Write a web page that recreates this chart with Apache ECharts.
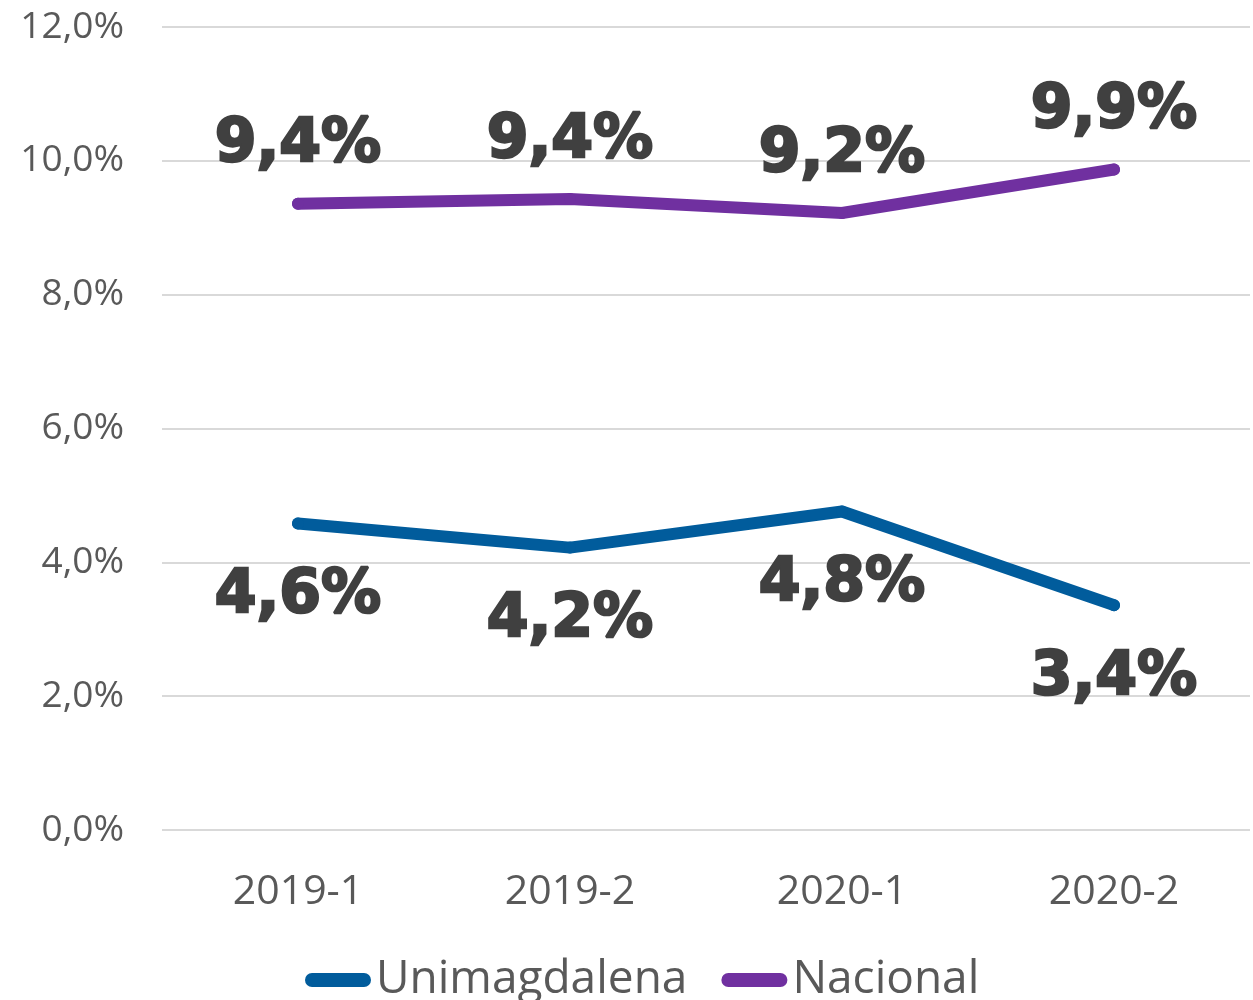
<!DOCTYPE html>
<html><head><meta charset="utf-8">
<script src="https://cdn.jsdelivr.net/npm/echarts@6/dist/echarts.min.js"></script>
<style>html,body{margin:0;padding:0;background:#fff}#c{width:1253px;height:1000px}</style>
</head><body><div id="c"></div>
<script>
const categories = ['2019-1','2019-2','2020-1','2020-2'];
const unimagdalena = [4.58, 4.22, 4.76, 3.36];
const nacional = [9.36, 9.43, 9.22, 9.87];
const yTicks = [0,2,4,6,8,10,12];

const fmt = v => v.toFixed(1).replace('.', ',') + '%';
const labelStyle = {
  show: true, fontFamily: 'DejaVu Sans', fontWeight: 'bold', fontSize: 60, color: '#404040',
  textBorderColor: '#404040', textBorderWidth: 2.5,
  formatter: p => fmt(p.value)
};
const chart = echarts.init(document.getElementById('c'));
chart.setOption({
  animation: false,
  grid: {left: 162, right: 3, top: 27, bottom: 170},
  legend: {
    bottom: -8, left: 300, itemWidth: 66, itemHeight: 14, itemGap: 34,
    icon: 'path://M7,0 L59,0 A7,7 0 0 1 59,14 L7,14 A7,7 0 0 1 7,0 Z',
    textStyle: {fontFamily: 'Open Sans', fontSize: 46, color: '#595959'},
    data: ['Unimagdalena','Nacional']
  },
  xAxis: {
    type: 'category', data: categories,
    axisLine: {show: false}, axisTick: {show: false},
    axisLabel: {fontFamily: 'Open Sans', fontSize: 41, color: '#595959', margin: 42}
  },
  yAxis: {
    type: 'value', min: yTicks[0], max: yTicks[yTicks.length-1], interval: 2,
    axisLine: {show: false}, axisTick: {show: false},
    splitLine: {lineStyle: {color: '#d9d9d9', width: 2}},
    axisLabel: {fontFamily: 'Open Sans', fontSize: 37, color: '#595959', margin: 38,
      formatter: v => v.toFixed(1).replace('.', ',') + '%'}
  },
  series: [
    {name: 'Unimagdalena', type: 'line', data: unimagdalena, color: '#015C9C',
     lineStyle: {width: 12, cap: 'round', join: 'round'}, symbol: 'circle', symbolSize: 12,
     label: Object.assign({}, labelStyle, {position: 'bottom', distance: 37})},
    {name: 'Nacional', type: 'line', data: nacional, color: '#7030A0',
     lineStyle: {width: 12, cap: 'round', join: 'round'}, symbol: 'circle', symbolSize: 12,
     label: Object.assign({}, labelStyle, {position: 'top', distance: 22})}
  ]
});
</script></body></html>
